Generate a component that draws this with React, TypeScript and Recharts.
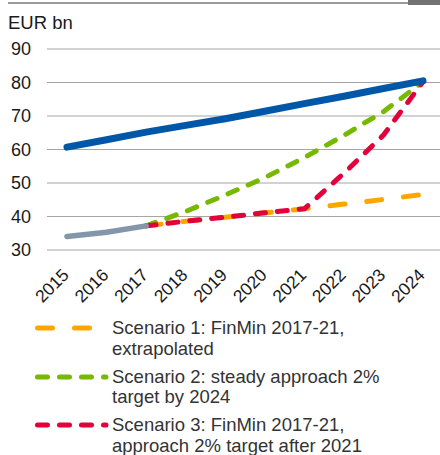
import { LineChart, Line, XAxis, YAxis, CartesianGrid } from 'recharts'

const years = ['2015', '2016', '2017', '2018', '2019', '2020', '2021', '2022', '2023', '2024']
const target = [60.7, 62.9, 65.2, 67.2, 69.2, 71.4, 73.7, 75.9, 78.2, 80.5]
const actual = [34, 35.3, 37.2, null, null, null, null, null, null, null]
const scenario1 = [null, null, 37.2, 38.6, 39.8, 41.1, 42.3, 43.7, 45.1, 46.6]
const scenario2 = [null, null, 37.2, 41.5, 46.4, 51.6, 57.6, 64.2, 71.3, 80.2]
const scenario3 = [null, null, 37.2, 38.6, 39.8, 41.1, 42.3, 52.9, 64.3, 80.2]
const yTicks = [30, 40, 50, 60, 70, 80, 90]

const FONT = '"Liberation Sans", Arial, sans-serif'

const SCENARIOS = [
  { key: 's1', color: '#ffa500', dash: '15 22', lines: ['Scenario 1: FinMin 2017-21,', 'extrapolated'] },
  { key: 's2', color: '#77b800', dash: '10 12', lines: ['Scenario 2: steady approach 2%', 'target by 2024'] },
  { key: 's3', color: '#e4003b', dash: '10 12', lines: ['Scenario 3: FinMin 2017-21,', 'approach 2% target after 2021'] },
]

const data = years.map((year, i) => ({
  year,
  target: target[i],
  actual: actual[i],
  s1: scenario1[i],
  s2: scenario2[i],
  s3: scenario3[i],
}))

// rotated year labels under the axis
function YearTick({ x, y, payload }: any) {
  return (
    <text
      x={x + 3}
      y={y + 26}
      transform={`rotate(-45, ${x + 3}, ${y + 26})`}
      textAnchor="end"
      fontSize={17.5}
      fill="#1a1a1a"
      fontFamily={FONT}
    >
      {payload.value}
    </text>
  )
}

function ScenarioLegend() {
  return (
    <div style={{ position: 'absolute', left: 0, top: 318, width: 440 }}>
      {SCENARIOS.map((s, i) => (
        <div key={s.key} style={{ position: 'absolute', left: 0, top: i * 48.5, width: 440 }}>
          <svg width={110} height={20} style={{ position: 'absolute', left: 30, top: 0 }}>
            <line x1={7.5} x2={76} y1={10} y2={10} stroke={s.color} strokeWidth={5}
              strokeDasharray={s.dash} strokeLinecap="round" />
          </svg>
          <div style={{ position: 'absolute', left: 112, top: 0, fontSize: 18.5, lineHeight: '20.5px', color: '#333', fontFamily: FONT, whiteSpace: 'nowrap' }}>
            {s.lines.map((l) => <div key={l}>{l}</div>)}
          </div>
        </div>
      ))}
    </div>
  )
}

export default function App() {
  return (
    <div style={{ position: 'absolute', left: 0, top: 0, width: 440, height: 455, background: '#fff', overflow: 'hidden' }}>
      <div style={{ position: 'absolute', left: 8, top: 2, width: 400, height: 2, background: '#9a9a9a' }} />
      <div style={{ position: 'absolute', left: 408, top: 0, width: 32, height: 5, background: '#727272' }} />
      <div style={{ position: 'absolute', left: 8, top: 12, fontSize: 18.5, color: '#1a1a1a', fontFamily: FONT }}>EUR bn</div>
      <div style={{ position: 'absolute', left: 0, top: 0 }}>
        <LineChart width={440} height={310} data={data} margin={{ top: 49, right: 0, left: 0, bottom: 0 }}>
          <CartesianGrid vertical={false} stroke="#a6a6a6" strokeWidth={1} />
          <YAxis
            width={47}
            domain={[30, 90]}
            ticks={yTicks}
            axisLine={false}
            tickLine={false}
            tickSize={0}
            tickMargin={16}
            tick={{ fontSize: 18, fill: '#1a1a1a', fontFamily: FONT }}
          />
          <XAxis
            dataKey="year"
            height={60}
            padding={{ left: 20, right: 17 }}
            axisLine={false}
            tickLine={false}
            tickSize={0}
            tickMargin={0}
            interval={0}
            tick={<YearTick />}
          />
          <Line dataKey="s1" stroke="#ffa500" strokeWidth={5} strokeDasharray="15 22" strokeLinecap="round" dot={false} isAnimationActive={false} connectNulls={false} />
          <Line dataKey="s2" stroke="#77b800" strokeWidth={5} strokeDasharray="10 12" strokeLinecap="round" dot={false} isAnimationActive={false} />
          <Line dataKey="s3" stroke="#e4003b" strokeWidth={5} strokeDasharray="10 12" strokeLinecap="round" dot={false} isAnimationActive={false} />
          <Line dataKey="actual" stroke="#8497aa" strokeWidth={5.5} strokeLinecap="round" dot={false} isAnimationActive={false} />
          <Line dataKey="target" stroke="#0057a8" strokeWidth={7} strokeLinecap="round" dot={false} isAnimationActive={false} />
        </LineChart>
      </div>
      <ScenarioLegend />
    </div>
  )
}
